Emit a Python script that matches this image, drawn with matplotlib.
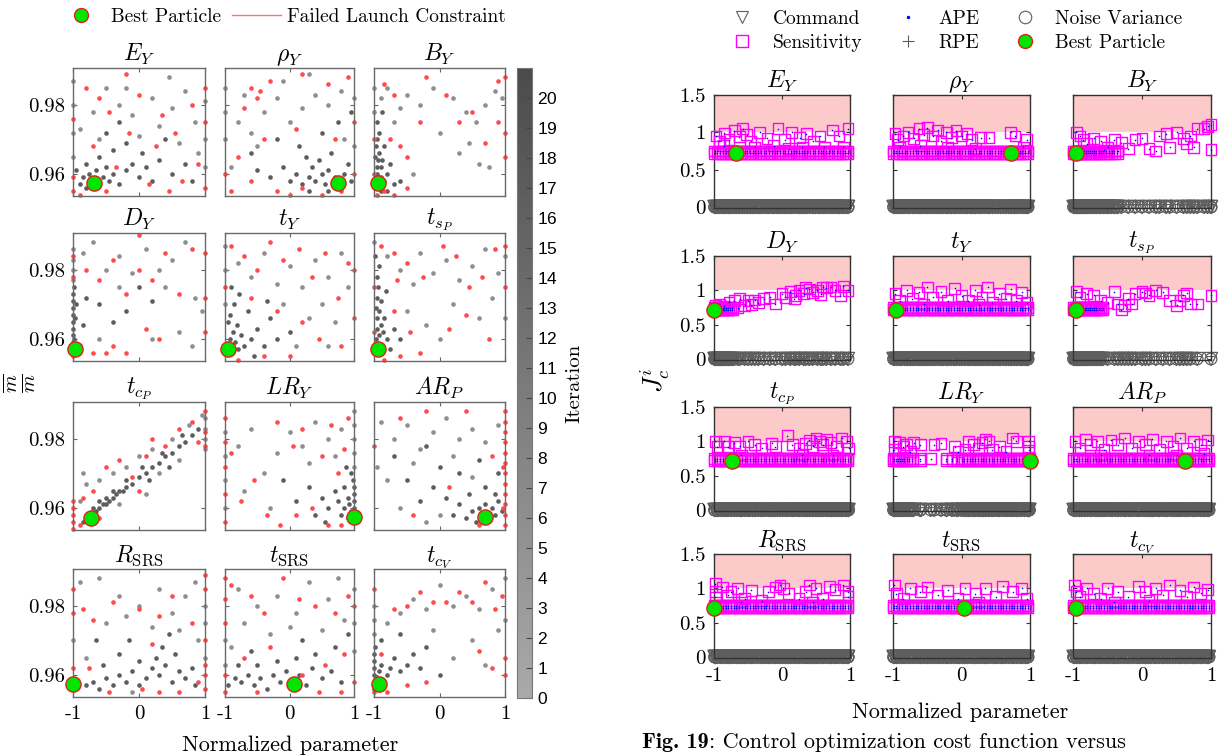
import numpy as np
import matplotlib
matplotlib.use('Agg')
import matplotlib.pyplot as plt
from matplotlib.colors import LinearSegmentedColormap, Normalize
from matplotlib.lines import Line2D
import matplotlib.colorbar as mcolorbar

plt.rcParams.update({
    'font.family': 'serif',
    'font.serif': ['cmr10', 'DejaVu Serif'],
    'mathtext.fontset': 'cm',
    'axes.unicode_minus': False,
    'axes.formatter.use_mathtext': True,
})

# ---------------- left figure data: normalized parameter vs mass ratio ----------------
# late = dark (late iteration), early = light (early iteration), fail = failed launch constraint
ey_late = [(-0.9,0.957),(-0.85,0.959),(-0.8,0.956),(-0.75,0.960),(-0.7,0.958),(-0.65,0.961),(-0.6,0.957),(-0.55,0.959),(-0.5,0.962),(-0.45,0.958),(-0.4,0.960),(-0.3,0.957),(-0.2,0.961),(-0.1,0.963),(0.0,0.959),(0.1,0.962),(0.2,0.958),(-0.6,0.965),(-0.4,0.967),(-0.2,0.969),(0.05,0.966),(0.3,0.964),(0.5,0.960),(0.7,0.963),(-0.8,0.963),(-0.5,0.972),(-0.3,0.975),(0.4,0.970),(0.8,0.958),(-0.95,0.961)]
ey_early = [(-0.5,0.985),(-0.3,0.980),(-0.1,0.977),(0.2,0.982),(0.5,0.979),(0.7,0.984),(0.85,0.975),(-0.7,0.978),(0.0,0.971),(0.3,0.974),(0.6,0.969),(-0.9,0.973),(0.9,0.966),(-0.2,0.985),(0.45,0.988),(-0.6,0.970),(-1,0.965),(-1,0.972),(-1,0.980),(-1,0.987),(1,0.981),(1,0.962),(1,0.970)]
ey_fail = [(-0.8,0.985),(-0.6,0.982),(-0.45,0.978),(-0.2,0.989),(0.0,0.983),(0.35,0.977),(0.55,0.972),(0.8,0.980),(-0.7,0.968),(-0.35,0.962),(0.15,0.957),(0.45,0.955),(0.65,0.958),(-0.9,0.954),(-0.5,0.955),(0.9,0.963),(-1,0.959),(-1,0.955),(-1,0.976),(1,0.956),(1,0.975),(1,0.985),(0.25,0.968),(-0.15,0.972)]
ey_best = (-0.68, 0.9574)

rho_late = [(0.0,0.958),(0.1,0.960),(0.2,0.957),(0.3,0.959),(0.35,0.962),(0.4,0.958),(0.5,0.960),(0.55,0.957),(0.6,0.961),(0.7,0.959),(0.8,0.957),(0.85,0.960),(0.9,0.963),(0.95,0.958),(0.45,0.964),(0.25,0.965),(-0.1,0.962),(-0.3,0.959),(-0.5,0.961),(0.65,0.966),(0.15,0.968),(-0.2,0.970),(0.5,0.972),(0.75,0.975),(0.95,0.978),(-0.6,0.966),(0.3,0.955),(0.6,0.955)]
rho_early = [(-0.8,0.975),(-0.6,0.972),(-0.4,0.978),(-0.2,0.982),(0.0,0.975),(0.2,0.979),(0.4,0.983),(0.6,0.980),(0.8,0.984),(-0.7,0.983),(-0.1,0.987),(0.3,0.989),(-0.9,0.962),(-0.5,0.968),(-1,0.970),(-1,0.978),(-1,0.985),(1,0.968),(1,0.982),(0.85,0.970)]
rho_fail = [(-0.6,0.985),(-0.5,0.982),(-0.45,0.984),(-0.7,0.979),(-0.3,0.987),(0.2,0.989),(0.6,0.986),(0.9,0.988),(-0.8,0.965),(-0.6,0.958),(-0.2,0.955),(0.0,0.954),(0.2,0.956),(0.5,0.954),(0.8,0.955),(-0.4,0.970),(0.1,0.973),(0.7,0.970),(-1,0.960),(1,0.960),(1,0.975),(-0.9,0.955)]
rho_best = (0.75, 0.9574)

by_late = [(-0.98,0.956),(-0.97,0.958),(-0.95,0.960),(-0.96,0.962),(-0.94,0.964),(-0.93,0.957),(-0.92,0.966),(-0.9,0.959),(-0.97,0.968),(-0.95,0.970),(-0.9,0.962),(-0.88,0.964),(-0.85,0.958),(-0.93,0.972),(-0.96,0.975),(-0.8,0.960),(-0.75,0.963),(-0.7,0.957),(-0.85,0.968),(-0.9,0.955),(-0.98,0.965),(-0.8,0.955),(-0.6,0.958),(-0.88,0.978)]
by_early = [(-0.9,0.982),(-0.8,0.985),(-0.7,0.975),(-0.6,0.979),(-0.5,0.983),(-0.3,0.980),(-0.1,0.985),(0.2,0.982),(0.4,0.978),(0.55,0.975),(0.7,0.980),(0.85,0.984),(0.3,0.966),(0.45,0.969),(0.6,0.963),(0.75,0.962),(-0.4,0.960),(0.95,0.982),(-1,0.985),(-1,0.978),(0.0,0.972)]
by_fail = [(-0.85,0.986),(-0.7,0.983),(-0.75,0.970),(-0.6,0.968),(-0.5,0.965),(-0.3,0.975),(0.1,0.983),(0.3,0.975),(0.5,0.978),(0.7,0.969),(0.9,0.987),(0.9,0.975),(-0.95,0.954),(-0.85,0.955),(-0.7,0.954),(-0.5,0.956),(-1,0.960),(-1,0.970),(1,0.988),(1,0.965),(1,0.972),(-0.2,0.988)]
by_best = (-0.94, 0.9574)

dy_late = [(-1,0.957),(-1,0.959),(-1,0.961),(-1,0.963),(-1,0.965),(-1,0.967),(-1,0.969),(-1,0.971),(-1,0.973),(-0.98,0.975),(-0.98,0.960),(-0.97,0.966),(-0.95,0.970),(-0.9,0.958),(-0.85,0.964),(-0.8,0.972),(-0.6,0.970),(-0.4,0.965),(-0.2,0.968),(0.0,0.975),(0.2,0.971)]
dy_early = [(-1,0.977),(-1,0.980),(-1,0.983),(-1,0.986),(-0.85,0.985),(-0.7,0.988),(-0.5,0.980),(-0.3,0.984),(-0.1,0.979),(0.1,0.986),(0.3,0.980),(0.5,0.983),(0.7,0.988),(0.85,0.972),(0.95,0.968),(0.6,0.962),(0.4,0.975),(-0.6,0.960),(0.2,0.960),(0.8,0.958),(-0.3,0.975)]
dy_fail = [(-1,0.955),(-1,0.984),(-1,0.978),(-0.8,0.980),(-0.6,0.977),(-0.4,0.983),(-0.2,0.973),(0.0,0.980),(0.2,0.977),(0.4,0.985),(0.6,0.973),(0.8,0.986),(-0.7,0.956),(-0.4,0.958),(-0.2,0.956),(0.1,0.963),(0.3,0.960),(1,0.985),(1,0.962),(1,0.972),(-0.5,0.956),(0.0,0.990)]
dy_best = (-0.97, 0.9571)

ty_late = [(-0.98,0.956),(-0.95,0.958),(-0.93,0.960),(-0.9,0.957),(-0.88,0.962),(-0.85,0.959),(-0.82,0.964),(-0.8,0.957),(-0.75,0.961),(-0.7,0.958),(-0.96,0.965),(-0.92,0.967),(-0.86,0.970),(-0.6,0.960),(-0.5,0.963),(-0.4,0.958),(-0.3,0.966),(-0.2,0.960),(-0.78,0.973),(-0.65,0.968),(0.0,0.962),(-0.9,0.975),(-0.55,0.955),(-0.35,0.971)]
ty_early = [(-0.8,0.982),(-0.6,0.978),(-0.4,0.985),(-0.2,0.976),(0.0,0.981),(0.2,0.975),(0.4,0.983),(0.6,0.978),(0.8,0.985),(0.3,0.966),(0.5,0.970),(0.7,0.965),(0.9,0.975),(0.1,0.958),(0.6,0.958),(-1,0.970),(-1,0.980),(-1,0.987),(-0.1,0.970)]
ty_fail = [(-0.9,0.987),(-0.7,0.984),(-0.5,0.980),(-0.3,0.988),(-0.1,0.983),(0.15,0.986),(0.35,0.978),(0.55,0.985),(0.75,0.972),(0.9,0.982),(-0.6,0.972),(-0.2,0.968),(0.2,0.965),(0.45,0.960),(0.8,0.958),(-0.8,0.954),(-0.4,0.955),(0.0,0.955),(-1,0.958),(-1,0.975),(1,0.966),(1,0.980)]
ty_best = (-0.95, 0.9571)

tsp_late = [(-0.98,0.957),(-0.97,0.960),(-0.96,0.963),(-0.95,0.966),(-0.97,0.969),(-0.96,0.972),(-0.94,0.975),(-0.95,0.958),(-0.92,0.961),(-0.9,0.964),(-0.93,0.968),(-0.88,0.958),(-0.86,0.962),(-0.9,0.971),(-0.85,0.966),(-0.8,0.960),(-0.75,0.957),(-0.7,0.963),(-0.96,0.978),(-0.92,0.981),(-0.6,0.960),(-0.82,0.974),(-0.98,0.984)]
tsp_early = [(-0.8,0.984),(-0.6,0.980),(-0.4,0.976),(-0.3,0.985),(-0.1,0.979),(0.1,0.983),(0.3,0.977),(0.5,0.981),(0.7,0.986),(0.9,0.979),(-0.5,0.968),(-0.2,0.964),(0.2,0.970),(0.6,0.966),(0.8,0.972),(0.0,0.960),(-1,0.988),(1,0.984),(1,0.966)]
tsp_fail = [(-0.9,0.987),(-0.7,0.985),(-0.65,0.977),(-0.5,0.982),(-0.25,0.978),(0.05,0.987),(0.25,0.984),(0.45,0.975),(0.65,0.978),(0.85,0.986),(-0.7,0.968),(-0.45,0.962),(0.15,0.963),(0.4,0.967),(0.75,0.960),(-0.85,0.954),(-0.6,0.955),(-1,0.962),(-1,0.975),(1,0.975),(1,0.987),(-0.3,0.956)]
tsp_best = (-0.94, 0.9571)

tcp_late = [(-0.85,0.956),(-0.8,0.957),(-0.75,0.958),(-0.7,0.958),(-0.65,0.959),(-0.6,0.960),(-0.55,0.961),(-0.5,0.961),(-0.45,0.962),(-0.4,0.963),(-0.35,0.964),(-0.3,0.965),(-0.25,0.965),(-0.2,0.966),(-0.1,0.967),(0.0,0.969),(0.1,0.970),(0.2,0.972),(0.3,0.973),(0.4,0.975),(0.5,0.976),(0.6,0.978),(0.7,0.979),(0.8,0.981),(0.9,0.983),(-0.6,0.962),(-0.4,0.965),(-0.2,0.968),(0.05,0.972),(0.35,0.976),(0.65,0.981),(0.15,0.968),(0.45,0.972),(-0.7,0.960),(-0.5,0.963)]
tcp_early = [(-0.6,0.968),(-0.4,0.970),(-0.2,0.972),(0.0,0.975),(0.2,0.977),(0.5,0.980),(0.75,0.984),(0.95,0.987),(-0.9,0.962),(-0.8,0.967),(0.3,0.970),(0.6,0.974),(1,0.980),(1,0.983),(1,0.986),(1,0.977),(-0.3,0.961),(0.1,0.964),(-0.85,0.970)]
tcp_fail = [(-1,0.954),(-1,0.956),(-1,0.958),(-1,0.960),(-1,0.962),(-0.9,0.955),(-0.85,0.963),(-0.7,0.965),(-0.5,0.972),(-0.3,0.974),(-0.1,0.969),(0.1,0.975),(0.2,0.980),(0.4,0.978),(0.6,0.983),(0.8,0.985),(0.9,0.979),(1,0.988),(1,0.982),(1,0.978),(0.0,0.965),(-0.6,0.957)]
tcp_best = (-0.72, 0.957)

lry_late = [(1,0.956),(1,0.958),(1,0.960),(1,0.962),(1,0.964),(1,0.966),(0.98,0.968),(0.97,0.957),(0.95,0.959),(0.93,0.961),(0.9,0.963),(0.9,0.957),(0.85,0.960),(0.8,0.958),(0.85,0.966),(0.75,0.962),(0.7,0.965),(0.6,0.960),(0.5,0.963),(0.4,0.958),(0.95,0.970),(0.88,0.972),(0.3,0.966),(0.1,0.962),(-0.1,0.968),(0.55,0.956)]
lry_early = [(1,0.972),(1,0.976),(1,0.980),(1,0.984),(1,0.988),(-1,0.960),(-1,0.968),(-1,0.975),(-1,0.982),(-0.8,0.978),(-0.6,0.983),(-0.4,0.970),(-0.2,0.976),(0.0,0.982),(0.2,0.978),(0.4,0.985),(0.6,0.980),(0.8,0.983),(-0.7,0.965),(-0.3,0.960),(0.3,0.973),(0.7,0.975)]
lry_fail = [(-1,0.956),(-1,0.964),(-1,0.972),(-1,0.979),(-1,0.986),(-0.9,0.976),(-0.75,0.962),(-0.55,0.968),(-0.35,0.958),(-0.15,0.955),(0.05,0.978),(0.2,0.983),(0.35,0.960),(0.5,0.975),(0.65,0.984),(0.75,0.970),(0.85,0.977),(0.6,0.955),(0.8,0.955),(0.9,0.986),(-0.2,0.985),(0.1,0.958)]
lry_best = (1.0, 0.9574)

arp_late = [(0.4,0.957),(0.5,0.959),(0.55,0.956),(0.6,0.960),(0.65,0.958),(0.7,0.961),(0.75,0.957),(0.8,0.960),(0.85,0.958),(0.9,0.962),(0.95,0.959),(0.3,0.961),(0.2,0.958),(0.1,0.963),(0.45,0.964),(0.7,0.966),(0.85,0.964),(-0.1,0.966),(-0.3,0.962),(-0.5,0.968),(0.0,0.972),(0.3,0.970),(0.6,0.974),(-0.7,0.975),(-0.2,0.978),(0.9,0.970)]
arp_early = [(-0.9,0.985),(-0.7,0.980),(-0.5,0.984),(-0.3,0.977),(-0.1,0.982),(0.1,0.986),(0.3,0.980),(0.5,0.983),(0.7,0.979),(0.9,0.984),(-0.8,0.968),(-0.6,0.960),(-0.4,0.973),(0.2,0.975),(0.5,0.969),(-0.95,0.972),(0.0,0.958),(-0.2,0.956)]
arp_fail = [(1,0.955),(1,0.958),(1,0.961),(1,0.964),(1,0.967),(1,0.970),(1,0.973),(1,0.976),(1,0.979),(1,0.982),(1,0.985),(1,0.988),(0.97,0.960),(0.97,0.972),(-0.6,0.986),(-0.2,0.988),(0.4,0.988),(0.15,0.966),(-0.4,0.958),(0.6,0.955),(-1,0.978),(0.8,0.975)]
arp_best = (0.69, 0.9574)

rsrs_late = [(-0.8,0.957),(-0.7,0.958),(-0.6,0.956),(-0.5,0.959),(-0.4,0.957),(-0.3,0.960),(-0.2,0.958),(-0.1,0.961),(0.0,0.957),(0.1,0.959),(0.2,0.962),(0.25,0.965),(0.3,0.960),(0.4,0.963),(0.5,0.958),(0.6,0.961),(0.7,0.959),(0.8,0.962),(-0.55,0.963),(-0.3,0.966),(0.0,0.964),(0.35,0.968),(0.55,0.966),(-0.15,0.970),(0.45,0.972),(-0.65,0.970),(0.85,0.957)]
rsrs_early = [(-0.9,0.987),(-0.6,0.988),(-0.3,0.983),(0.0,0.980),(0.3,0.985),(0.5,0.978),(0.7,0.983),(0.85,0.987),(-0.5,0.975),(-0.2,0.977),(0.2,0.974),(0.6,0.973),(0.9,0.970),(-0.8,0.965),(1,0.975),(1,0.965),(1,0.980),(-1,0.970),(-0.1,0.955)]
rsrs_fail = [(-1,0.957),(-1,0.962),(-1,0.978),(-1,0.985),(-0.85,0.979),(-0.7,0.976),(-0.4,0.981),(0.0,0.979),(0.3,0.977),(0.5,0.983),(0.8,0.975),(-0.75,0.962),(-0.45,0.955),(0.05,0.956),(0.3,0.955),(0.6,0.955),(0.9,0.958),(1,0.956),(1,0.960),(1,0.963),(1,0.970),(1,0.985),(1,0.989),(0.2,0.969)]
rsrs_best = (-1.0, 0.9574)

tsrs_late = [(-0.95,0.957),(-0.85,0.959),(-0.75,0.958),(-0.65,0.960),(-0.55,0.957),(-0.45,0.959),(-0.35,0.956),(-0.25,0.960),(-0.15,0.958),(-0.05,0.961),(0.05,0.958),(0.15,0.960),(0.25,0.957),(0.35,0.962),(0.5,0.959),(0.65,0.961),(0.8,0.958),(-0.8,0.963),(-0.5,0.963),(-0.2,0.964),(0.1,0.965),(0.4,0.966),(0.7,0.968),(-0.6,0.967),(0.9,0.972),(0.2,0.970)]
tsrs_early = [(-0.8,0.985),(-0.5,0.980),(-0.2,0.983),(0.1,0.978),(0.3,0.987),(0.6,0.982),(0.85,0.976),(-0.7,0.975),(-0.3,0.972),(0.0,0.974),(0.5,0.973),(-0.9,0.968),(1,0.985),(1,0.975),(1,0.967),(-1,0.963),(-1,0.970),(0.75,0.988)]
tsrs_fail = [(-1,0.955),(-1,0.960),(-1,0.975),(-1,0.982),(-1,0.988),(-0.9,0.986),(-0.6,0.983),(-0.4,0.978),(-0.1,0.988),(0.15,0.982),(0.4,0.980),(0.7,0.978),(0.9,0.983),(-0.7,0.965),(-0.3,0.968),(0.2,0.960),(0.55,0.963),(0.85,0.966),(1,0.980),(1,0.958),(-0.5,0.955),(0.45,0.955),(0.8,0.955)]
tsrs_best = (0.07, 0.9574)

tcv_late = [(-1,0.956),(-1,0.958),(-1,0.960),(-1,0.962),(-1,0.964),(-1,0.966),(-0.98,0.968),(-0.97,0.957),(-0.95,0.959),(-0.93,0.961),(-0.9,0.963),(-0.85,0.958),(-0.8,0.960),(-0.75,0.962),(-0.7,0.965),(-0.6,0.961),(-0.5,0.963),(-0.4,0.966),(-0.3,0.962),(-0.2,0.968),(0.0,0.960),(-0.9,0.970),(-0.6,0.972)]
tcv_early = [(-1,0.972),(-1,0.976),(-1,0.980),(-0.8,0.975),(-0.6,0.978),(-0.4,0.982),(-0.2,0.979),(0.0,0.986),(0.2,0.980),(0.4,0.983),(0.6,0.979),(0.8,0.985),(0.9,0.973),(0.5,0.970),(0.2,0.965),(0.7,0.963),(-0.1,0.973),(1,0.988),(1,0.976)]
tcv_fail = [(-1,0.955),(-1,0.985),(-0.9,0.966),(-0.8,0.955),(-0.7,0.979),(-0.5,0.980),(-0.3,0.984),(-0.1,0.981),(0.1,0.981),(0.3,0.984),(0.5,0.981),(0.7,0.987),(0.85,0.979),(0.95,0.983),(0.8,0.962),(0.6,0.967),(-0.2,0.958),(-0.5,0.957),(1,0.965),(1,0.960)]
tcv_best = (-0.93, 0.9574)

late_iter = 17
early_iter = 6

# ---------------- right figure data: normalized parameter vs cost J_c ----------------
# particles sitting on the cost floor (band) and the scattered ones above it (up)
band_full = [-0.99,-0.95,-0.91,-0.87,-0.83,-0.79,-0.75,-0.71,-0.67,-0.63,-0.59,-0.55,-0.51,-0.47,-0.43,-0.39,-0.35,-0.31,-0.27,-0.23,-0.19,-0.15,-0.11,-0.07,-0.03,0.01,0.05,0.09,0.13,0.17,0.21,0.25,0.29,0.33,0.37,0.41,0.45,0.49,0.53,0.57,0.61,0.65,0.69,0.73,0.77,0.81,0.85,0.89,0.93,0.97]
band_by = [-0.99,-0.97,-0.95,-0.93,-0.91,-0.89,-0.87,-0.84,-0.81,-0.78,-0.75,-0.72,-0.69,-0.66,-0.63,-0.6,-0.56,-0.52,-0.48,-0.44,-0.4,-0.36]
band_dy = [-0.99,-0.97,-0.95,-0.93,-0.91,-0.89,-0.87,-0.85,-0.82,-0.79,-0.76,-0.73]
band_tsp = [-0.99,-0.97,-0.95,-0.93,-0.91,-0.89,-0.87,-0.85,-0.83,-0.81,-0.78,-0.75,-0.72,-0.69,-0.66,-0.63,-0.6,-0.57]
band_lry = [-0.99,-0.96,-0.93,-0.9,-0.87,-0.84,-0.8,-0.76,-0.72,-0.6,-0.22,-0.14,-0.06,0.0,0.04,0.08,0.12,0.16,0.2,0.24,0.28,0.32,0.36,0.4,0.44,0.48,0.52,0.56,0.6,0.64,0.68,0.72,0.76,0.8,0.84,0.88,0.92,0.96,0.99]
band_cost = [0.72, 0.75]

ey_up = [(-0.97,0.95),(-0.92,0.88),(-0.85,0.99),(-0.78,0.9),(-0.7,1.02),(-0.63,0.94),(-0.58,1.05),(-0.52,0.97),(-0.46,0.88),(-0.33,1.0),(-0.22,0.92),(-0.06,1.05),(0.04,0.9),(0.14,1.0),(0.26,0.93),(0.36,0.98),(0.46,0.88),(0.56,0.95),(0.74,1.03),(0.84,0.95),(0.97,1.05),(0.9,0.8),(0.62,0.8),(0.3,0.8),(-0.12,0.82),(-0.86,0.82),(-0.4,0.8),(0.1,0.78)]
rho_up = [(-0.97,0.98),(-0.93,0.9),(-0.85,0.95),(-0.78,1.0),(-0.7,0.92),(-0.62,1.05),(-0.55,0.97),(-0.5,1.06),(-0.42,0.95),(-0.35,1.03),(-0.3,0.88),(-0.22,1.0),(-0.15,0.93),(-0.08,1.02),(0.0,0.95),(0.08,0.98),(0.15,0.9),(0.28,0.93),(0.4,0.93),(0.72,1.0),(0.78,0.95),(0.95,0.9),(-0.9,0.8),(-0.6,0.82),(-0.2,0.8),(0.2,0.78),(0.9,0.8)]
by_up = [(-0.95,1.0),(-0.9,0.95),(-0.85,0.9),(-0.8,0.85),(-0.7,0.92),(-0.6,0.88),(-0.5,0.8),(-0.4,0.9),(-0.3,0.86),(-0.2,0.78),(-0.1,0.9),(0.0,0.92),(0.1,0.78),(0.2,0.75),(0.25,0.95),(0.35,0.98),(0.4,0.8),(0.5,1.0),(0.6,0.92),(0.65,0.85),(0.7,0.95),(0.75,0.8),(0.8,1.05),(0.9,1.05),(0.95,1.08),(1.0,1.1),(1.0,0.77),(-0.55,0.76),(-0.35,0.75)]
dy_up = [(-0.98,0.78),(-0.92,0.8),(-0.85,0.77),(-0.78,0.83),(-0.7,0.85),(-0.62,0.88),(-0.55,0.78),(-0.5,0.85),(-0.45,0.79),(-0.35,0.82),(-0.27,0.88),(-0.18,0.9),(-0.1,0.8),(0.0,0.95),(0.05,0.9),(0.12,0.98),(0.18,0.88),(0.25,1.0),(0.32,0.95),(0.4,1.02),(0.45,0.97),(0.52,1.0),(0.57,0.94),(0.65,1.04),(0.72,1.05),(0.78,1.0),(0.86,0.92),(0.9,1.06),(0.97,1.0),(-0.65,0.75),(-0.4,0.86),(0.2,0.93),(0.35,1.04),(0.6,1.05)]
ty_up = [(-0.97,0.95),(-0.9,0.85),(-0.8,1.0),(-0.72,0.88),(-0.62,0.97),(-0.5,1.05),(-0.42,0.9),(-0.3,0.98),(-0.2,0.85),(-0.1,1.03),(0.0,0.92),(0.1,0.85),(0.2,1.0),(0.3,0.9),(0.38,1.05),(0.45,0.82),(0.55,0.95),(0.65,0.88),(0.72,1.02),(0.8,0.85),(0.88,0.97),(0.95,0.82),(-0.55,0.8),(0.25,0.79)]
tsp_up = [(-0.95,0.98),(-0.9,0.9),(-0.8,0.95),(-0.7,0.93),(-0.6,0.85),(-0.5,0.82),(-0.35,0.8),(-0.4,0.98),(-0.2,0.88),(-0.15,0.8),(-0.1,0.95),(0.0,0.98),(0.05,0.96),(0.1,0.93),(0.2,1.0),(0.3,0.97),(0.4,0.85),(0.5,0.78),(0.55,0.85),(0.6,0.93),(0.65,0.96),(0.7,0.8),(0.8,0.8),(1.0,0.93),(-0.3,0.72),(-0.25,0.78)]
tcp_up = [(-0.98,1.0),(-0.95,0.92),(-0.85,1.0),(-0.8,0.92),(-0.7,0.98),(-0.62,0.93),(-0.5,1.0),(-0.4,0.95),(-0.3,0.9),(-0.15,0.97),(-0.1,0.92),(0.08,1.08),(0.15,0.95),(0.25,0.9),(0.35,0.97),(0.4,1.02),(0.45,0.93),(0.5,1.05),(0.55,1.0),(0.6,0.95),(0.65,1.03),(0.72,0.98),(0.8,0.92),(0.88,1.05),(0.95,1.0),(0.98,0.9),(-0.6,0.8),(0.3,0.8),(0.75,0.8)]
lry_up = [(-0.98,1.0),(-0.98,0.88),(-0.9,0.98),(-0.85,0.92),(-0.8,0.95),(-0.75,0.85),(-0.7,0.98),(-0.6,0.95),(-0.4,0.95),(-0.3,0.97),(-0.1,0.92),(-0.05,0.85),(0.05,0.88),(0.1,1.0),(0.18,0.95),(0.25,0.9),(0.3,0.98),(0.35,1.03),(0.4,1.0),(0.45,0.88),(0.55,0.92),(0.65,0.85),(0.75,1.05),(0.8,1.0),(0.98,1.0),(0.98,0.92),(0.98,0.87),(-0.45,0.75)]
arp_up = [(-0.97,1.0),(-0.9,0.9),(-0.82,1.03),(-0.75,0.95),(-0.65,1.0),(-0.55,0.88),(-0.45,1.02),(-0.35,0.95),(-0.25,1.05),(-0.15,0.9),(-0.05,1.0),(0.05,0.95),(0.15,1.03),(0.25,0.88),(0.35,1.0),(0.45,0.93),(0.55,1.05),(0.65,0.9),(0.75,1.0),(0.85,0.95),(0.95,1.02),(-0.6,0.8),(0.1,0.8),(0.5,0.8),(0.9,0.82)]
rsrs_up = [(-0.98,1.07),(-0.98,0.95),(-0.98,0.87),(-0.88,1.02),(-0.8,0.9),(-0.75,0.95),(-0.65,1.0),(-0.55,0.85),(-0.45,0.97),(-0.3,0.82),(-0.2,0.95),(-0.1,1.02),(-0.03,1.05),(0.02,1.0),(0.1,0.93),(0.25,0.85),(0.35,0.95),(0.4,1.05),(0.5,1.0),(0.6,0.85),(0.7,1.03),(0.78,0.98),(0.9,1.05),(0.97,0.95),(0.97,0.88),(0.45,0.8),(-0.6,0.8)]
tsrs_up = [(-0.98,1.05),(-0.95,0.92),(-0.85,0.85),(-0.75,1.0),(-0.6,0.95),(-0.5,1.02),(-0.35,0.9),(-0.2,0.97),(-0.05,0.85),(0.05,1.0),(0.2,0.92),(0.35,1.0),(0.5,0.88),(0.6,1.03),(0.75,0.95),(0.88,1.0),(0.95,0.85),(0.25,0.8)]
tcv_up = [(-0.98,1.05),(-0.95,0.95),(-0.9,0.88),(-0.8,1.0),(-0.7,0.92),(-0.6,0.85),(-0.5,1.0),(-0.35,0.95),(-0.2,0.88),(-0.05,1.03),(0.05,0.95),(0.2,1.0),(0.3,0.9),(0.4,1.05),(0.55,0.97),(0.65,0.88),(0.75,1.02),(0.85,0.93),(0.95,0.98),(0.1,0.82),(-0.4,0.8)]

ey_jbest = (-0.68, 0.72)
rho_jbest = (0.72, 0.72)
by_jbest = (-0.96, 0.72)
dy_jbest = (-1.0, 0.72)
ty_jbest = (-0.96, 0.72)
tsp_jbest = (-0.96, 0.72)
tcp_jbest = (-0.74, 0.72)
lry_jbest = (1.0, 0.72)
arp_jbest = (0.63, 0.72)
rsrs_jbest = (-1.0, 0.72)
tsrs_jbest = (0.04, 0.72)
tcv_jbest = (-0.96, 0.72)

titles = [r'$E_Y$', r'$\rho_Y$', r'$B_Y$', r'$D_Y$', r'$t_Y$', r'$t_{s_P}$',
          r'$t_{c_P}$', r'$LR_Y$', r'$AR_P$', r'$R_{\mathrm{SRS}}$', r'$t_{\mathrm{SRS}}$', r'$t_{c_V}$']

left_sets = [(ey_late, ey_early, ey_fail, ey_best), (rho_late, rho_early, rho_fail, rho_best),
             (by_late, by_early, by_fail, by_best), (dy_late, dy_early, dy_fail, dy_best),
             (ty_late, ty_early, ty_fail, ty_best), (tsp_late, tsp_early, tsp_fail, tsp_best),
             (tcp_late, tcp_early, tcp_fail, tcp_best), (lry_late, lry_early, lry_fail, lry_best),
             (arp_late, arp_early, arp_fail, arp_best), (rsrs_late, rsrs_early, rsrs_fail, rsrs_best),
             (tsrs_late, tsrs_early, tsrs_fail, tsrs_best), (tcv_late, tcv_early, tcv_fail, tcv_best)]

right_sets = [(band_full, ey_up, ey_jbest), (band_full, rho_up, rho_jbest), (band_by, by_up, by_jbest),
              (band_dy, dy_up, dy_jbest), (band_full, ty_up, ty_jbest), (band_tsp, tsp_up, tsp_jbest),
              (band_full, tcp_up, tcp_jbest), (band_lry, lry_up, lry_jbest), (band_full, arp_up, arp_jbest),
              (band_full, rsrs_up, rsrs_jbest), (band_full, tsrs_up, tsrs_jbest), (band_full, tcv_up, tcv_jbest)]

# ---------------- drawing ----------------
W, H = 1228, 756
fig = plt.figure(figsize=(W / 100, H / 100), dpi=100)

def px_axes(x0, y0, w, h):
    return fig.add_axes([x0 / W, 1 - (y0 + h) / H, w / W, h / H])

cmap = LinearSegmentedColormap.from_list('iter', ['#a9a9a9', '#4b4b4b'])
norm = Normalize(0, 21)
red = '#ff4a4a'
green = '#00e600'

left_x = [73, 225, 374]
left_w = [132, 129, 131]
left_y = [68, 233, 402, 569]
left_h = 128

for k, (late, early, fail, best) in enumerate(left_sets):
    r, c = divmod(k, 3)
    ax = px_axes(left_x[c], left_y[r], left_w[c], left_h)
    for pts, col in [(early, cmap(norm(early_iter))), (late, cmap(norm(late_iter))), (fail, red)]:
        a = np.array(pts)
        ax.scatter(a[:, 0], a[:, 1], s=11, color=col, lw=0, clip_on=False, zorder=2)
    ax.scatter([best[0]], [best[1]], s=120, color=green, edgecolors='#e02020', lw=1.0,
               clip_on=False, zorder=4)
    ax.set_xlim(-1, 1)
    ax.set_ylim(0.9536, 0.9907)
    ax.set_xticks([-1, 0, 1])
    ax.set_yticks([0.96, 0.98])
    ax.set_xticklabels(['-1', '0', '1'] if r == 3 else [])
    ax.set_yticklabels(['0.96', '0.98'] if c == 0 else [])
    ax.tick_params(direction='in', length=3, top=True, right=True, labelsize=15,
                   color='#666666', pad=6)
    for s in ax.spines.values():
        s.set_color('#6a6a6a')
        s.set_linewidth(1.0)
    ax.set_title(titles[k], fontsize=17, pad=5)

cax = px_axes(517, 68, 15, 630)
cb = mcolorbar.ColorbarBase(cax, cmap=cmap, norm=norm, orientation='vertical')
cb.set_ticks(range(0, 21))
cb.outline.set_edgecolor('#777777')
cax.tick_params(direction='in', length=4, color='#444444', labelsize=12.5)
for t in cax.get_yticklabels():
    t.set_fontfamily('Liberation Sans')
cb.set_label('Iteration', fontsize=15, labelpad=6)

fig.text(20 / W, 1 - 383 / H, r'$\frac{\overline{m}}{m}$', rotation=90, fontsize=21,
         ha='center', va='center')
fig.text(290 / W, 1 - 745 / H, 'Normalized parameter', fontsize=16, ha='center', va='center')

left_handles = [Line2D([], [], ls='none', marker='o', ms=10, mfc=green, mec='#e02020', mew=1),
                Line2D([], [], color='#ff7070', lw=1)]
fig.legend(left_handles, ['Best Particle', 'Failed Launch Constraint'], loc='center',
           bbox_to_anchor=(281 / W, 1 - 17 / H), ncol=2, frameon=False, fontsize=14,
           handlelength=2.5, handletextpad=0.3, columnspacing=0.6)

right_x = [714, 893, 1073]
right_w = [136, 137, 138]
right_top = [95, 256, 407, 554]
right_span = [112, 103, 103, 103]
ybot = -0.02
gray = '#5e5e5e'

for k, (band, up, jbest) in enumerate(right_sets):
    r, c = divmod(k, 3)
    h = right_span[r] * (1.5 - ybot) / 1.5
    ax = px_axes(right_x[c], right_top[r], right_w[c], h)
    ax.axhspan(1.0, 1.5, color='#fdcaca', lw=0, zorder=0)
    up_a = np.array(up)
    band_a = np.array(band)
    xs = np.concatenate([band_a, band_a, up_a[:, 0]])
    js = np.concatenate([np.full(len(band), band_cost[0]), np.full(len(band), band_cost[1]), up_a[:, 1]])
    zero = np.zeros_like(xs)
    ax.scatter(xs, zero, marker='o', s=70, facecolors='none', edgecolors=gray, lw=0.9,
               clip_on=False, zorder=2)
    ax.scatter(xs, zero, marker='v', s=90, facecolors='none', edgecolors=gray, lw=0.9,
               clip_on=False, zorder=2)
    ax.scatter(xs, zero + 0.04, marker='+', s=50, color=gray, lw=0.8, clip_on=False, zorder=2)
    ax.scatter(xs, js, marker='s', s=60, facecolors='none', edgecolors='#ff00ff', lw=1.0,
               clip_on=False, zorder=3)
    ax.scatter(xs, js, marker='.', s=5, color='#0000ff', lw=0, clip_on=False, zorder=3)
    ax.scatter([jbest[0]], [jbest[1]], s=120, color=green, edgecolors='#e02020', lw=1.0,
               clip_on=False, zorder=5)
    ax.set_xlim(-1, 1)
    ax.set_ylim(ybot, 1.5)
    ax.set_xticks([-1, 0, 1])
    ax.set_yticks([0, 0.5, 1, 1.5])
    ax.set_xticklabels(['-1', '0', '1'] if r == 3 else [])
    ax.set_yticklabels(['0', '0.5', '1', '1.5'] if c == 0 else [])
    ax.tick_params(direction='in', length=3, top=True, right=True, labelsize=15,
                   color='#333333', pad=6)
    for s in ax.spines.values():
        s.set_color('#333333')
        s.set_linewidth(1.0)
    ax.set_title(titles[k], fontsize=17, pad=5)

fig.text(655 / W, 1 - 380 / H, r'$J_c^i$', rotation=90, fontsize=19, ha='center', va='center')
fig.text(960 / W, 1 - 712 / H, 'Normalized parameter', fontsize=16, ha='center', va='center')

# caption: bold "Fig. 19" followed by the regular text
renderer = fig.canvas.get_renderer()
cap1 = fig.text(642 / W, 1 - 742 / H, 'Fig. 19', fontsize=16, fontfamily='cmb10',
                ha='left', va='center')
bb = cap1.get_window_extent(renderer)
fig.text(bb.x1 / W, 1 - 742 / H, ': Control optimization cost function versus',
         fontsize=16, ha='left', va='center')

right_handles = [
    Line2D([], [], ls='none', marker='v', ms=9, mfc='none', mec=gray, mew=0.8),
    Line2D([], [], ls='none', marker='s', ms=8, mfc='none', mec='#ff00ff', mew=1),
    Line2D([], [], ls='none', marker='.', ms=3, color='#0000ff'),
    Line2D([], [], ls='none', marker='+', ms=9, color=gray, mew=0.8),
    Line2D([], [], ls='none', marker='o', ms=9, mfc='none', mec=gray, mew=0.8),
    Line2D([], [], ls='none', marker='o', ms=10, mfc=green, mec='#e02020', mew=1),
]
fig.legend(right_handles, ['Command', 'Sensitivity', 'APE', 'RPE', 'Noise Variance', 'Best Particle'],
           loc='center', bbox_to_anchor=(955 / W, 1 - 31 / H), ncol=3, frameon=False, fontsize=14,
           handlelength=1.5, handletextpad=0.8, columnspacing=1.6, labelspacing=0.3)

fig.savefig('out.png', dpi=100)
